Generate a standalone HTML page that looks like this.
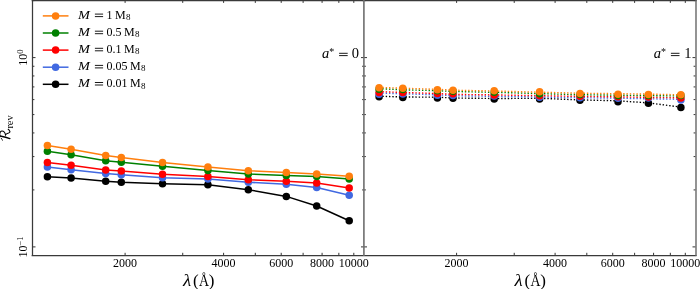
<!DOCTYPE html>
<html><head><meta charset="utf-8"><style>
html,body{margin:0;padding:0;background:#fff;width:700px;height:289px;overflow:hidden;}
svg{display:block;font-family:"Liberation Serif",serif;will-change:transform;}
</style></head><body><svg width="700" height="289" viewBox="0 0 700 289"><polyline points="47.40,176.70 71.10,178.00 105.70,181.20 121.30,182.20 162.50,183.70 207.90,184.80 248.30,189.70 286.30,196.40 316.70,206.00 349.20,220.80" fill="none" stroke="#000000" stroke-width="1.5" stroke-linejoin="round"/><circle cx="47.40" cy="176.70" r="3.75" fill="#000000"/><circle cx="71.10" cy="178.00" r="3.75" fill="#000000"/><circle cx="105.70" cy="181.20" r="3.75" fill="#000000"/><circle cx="121.30" cy="182.20" r="3.75" fill="#000000"/><circle cx="162.50" cy="183.70" r="3.75" fill="#000000"/><circle cx="207.90" cy="184.80" r="3.75" fill="#000000"/><circle cx="248.30" cy="189.70" r="3.75" fill="#000000"/><circle cx="286.30" cy="196.40" r="3.75" fill="#000000"/><circle cx="316.70" cy="206.00" r="3.75" fill="#000000"/><circle cx="349.20" cy="220.80" r="3.75" fill="#000000"/><polyline points="47.40,167.10 71.10,169.70 105.70,173.50 121.30,174.80 162.50,177.80 207.90,179.10 248.30,182.20 286.30,184.30 316.70,187.40 349.20,195.20" fill="none" stroke="#4169e1" stroke-width="1.5" stroke-linejoin="round"/><circle cx="47.40" cy="167.10" r="3.75" fill="#4169e1"/><circle cx="71.10" cy="169.70" r="3.75" fill="#4169e1"/><circle cx="105.70" cy="173.50" r="3.75" fill="#4169e1"/><circle cx="121.30" cy="174.80" r="3.75" fill="#4169e1"/><circle cx="162.50" cy="177.80" r="3.75" fill="#4169e1"/><circle cx="207.90" cy="179.10" r="3.75" fill="#4169e1"/><circle cx="248.30" cy="182.20" r="3.75" fill="#4169e1"/><circle cx="286.30" cy="184.30" r="3.75" fill="#4169e1"/><circle cx="316.70" cy="187.40" r="3.75" fill="#4169e1"/><circle cx="349.20" cy="195.20" r="3.75" fill="#4169e1"/><polyline points="47.40,162.50 71.10,165.30 105.70,170.10 121.30,171.10 162.50,174.20 207.90,176.60 248.30,179.70 286.30,181.30 316.70,183.00 349.20,188.10" fill="none" stroke="#ff0000" stroke-width="1.5" stroke-linejoin="round"/><circle cx="47.40" cy="162.50" r="3.75" fill="#ff0000"/><circle cx="71.10" cy="165.30" r="3.75" fill="#ff0000"/><circle cx="105.70" cy="170.10" r="3.75" fill="#ff0000"/><circle cx="121.30" cy="171.10" r="3.75" fill="#ff0000"/><circle cx="162.50" cy="174.20" r="3.75" fill="#ff0000"/><circle cx="207.90" cy="176.60" r="3.75" fill="#ff0000"/><circle cx="248.30" cy="179.70" r="3.75" fill="#ff0000"/><circle cx="286.30" cy="181.30" r="3.75" fill="#ff0000"/><circle cx="316.70" cy="183.00" r="3.75" fill="#ff0000"/><circle cx="349.20" cy="188.10" r="3.75" fill="#ff0000"/><polyline points="47.40,151.20 71.10,154.70 105.70,160.80 121.30,162.20 162.50,166.30 207.90,170.60 248.30,173.90 286.30,175.60 316.70,176.50 349.20,178.90" fill="none" stroke="#008000" stroke-width="1.5" stroke-linejoin="round"/><circle cx="47.40" cy="151.20" r="3.75" fill="#008000"/><circle cx="71.10" cy="154.70" r="3.75" fill="#008000"/><circle cx="105.70" cy="160.80" r="3.75" fill="#008000"/><circle cx="121.30" cy="162.20" r="3.75" fill="#008000"/><circle cx="162.50" cy="166.30" r="3.75" fill="#008000"/><circle cx="207.90" cy="170.60" r="3.75" fill="#008000"/><circle cx="248.30" cy="173.90" r="3.75" fill="#008000"/><circle cx="286.30" cy="175.60" r="3.75" fill="#008000"/><circle cx="316.70" cy="176.50" r="3.75" fill="#008000"/><circle cx="349.20" cy="178.90" r="3.75" fill="#008000"/><polyline points="47.40,145.60 71.10,149.30 105.70,155.50 121.30,157.60 162.50,162.50 207.90,166.90 248.30,170.70 286.30,172.60 316.70,174.10 349.20,176.20" fill="none" stroke="#ff7f0e" stroke-width="1.5" stroke-linejoin="round"/><circle cx="47.40" cy="145.60" r="3.75" fill="#ff7f0e"/><circle cx="71.10" cy="149.30" r="3.75" fill="#ff7f0e"/><circle cx="105.70" cy="155.50" r="3.75" fill="#ff7f0e"/><circle cx="121.30" cy="157.60" r="3.75" fill="#ff7f0e"/><circle cx="162.50" cy="162.50" r="3.75" fill="#ff7f0e"/><circle cx="207.90" cy="166.90" r="3.75" fill="#ff7f0e"/><circle cx="248.30" cy="170.70" r="3.75" fill="#ff7f0e"/><circle cx="286.30" cy="172.60" r="3.75" fill="#ff7f0e"/><circle cx="316.70" cy="174.10" r="3.75" fill="#ff7f0e"/><circle cx="349.20" cy="176.20" r="3.75" fill="#ff7f0e"/><polyline points="379.10,96.20 402.80,97.00 437.40,97.20 453.00,98.00 494.20,98.50 539.60,98.30 580.00,99.90 618.00,100.80 648.40,102.90 680.90,107.10" fill="none" stroke="#000000" stroke-width="1.4" stroke-dasharray="1.4 1.9"/><circle cx="379.10" cy="96.80" r="3.75" fill="#000000"/><circle cx="402.80" cy="97.50" r="3.75" fill="#000000"/><circle cx="437.40" cy="97.95" r="3.75" fill="#000000"/><circle cx="453.00" cy="98.30" r="3.75" fill="#000000"/><circle cx="494.20" cy="98.95" r="3.75" fill="#000000"/><circle cx="539.60" cy="98.90" r="3.75" fill="#000000"/><circle cx="580.00" cy="100.25" r="3.75" fill="#000000"/><circle cx="618.00" cy="101.70" r="3.75" fill="#000000"/><circle cx="648.40" cy="103.20" r="3.75" fill="#000000"/><circle cx="680.90" cy="107.40" r="3.75" fill="#000000"/><polyline points="379.10,93.00 402.80,93.80 437.40,94.80 453.00,95.80 494.20,96.30 539.60,97.00 580.00,97.70 618.00,98.20 648.40,98.80 680.90,99.30" fill="none" stroke="#4169e1" stroke-width="1.4" stroke-dasharray="1.4 1.9"/><circle cx="379.10" cy="94.30" r="3.75" fill="#4169e1"/><circle cx="402.80" cy="94.00" r="3.75" fill="#4169e1"/><circle cx="437.40" cy="95.20" r="3.75" fill="#4169e1"/><circle cx="453.00" cy="95.40" r="3.75" fill="#4169e1"/><circle cx="494.20" cy="96.05" r="3.75" fill="#4169e1"/><circle cx="539.60" cy="97.20" r="3.75" fill="#4169e1"/><circle cx="580.00" cy="97.80" r="3.75" fill="#4169e1"/><circle cx="618.00" cy="98.20" r="3.75" fill="#4169e1"/><circle cx="648.40" cy="98.10" r="3.75" fill="#4169e1"/><circle cx="680.90" cy="100.00" r="3.75" fill="#4169e1"/><polyline points="379.10,91.60 402.80,92.50 437.40,93.50 453.00,94.40 494.20,94.90 539.60,95.70 580.00,96.40 618.00,96.90 648.40,97.40 680.90,97.80" fill="none" stroke="#ff0000" stroke-width="1.4" stroke-dasharray="1.4 1.9"/><circle cx="379.10" cy="92.40" r="3.75" fill="#ff0000"/><circle cx="402.80" cy="92.50" r="3.75" fill="#ff0000"/><circle cx="437.40" cy="93.50" r="3.75" fill="#ff0000"/><circle cx="453.00" cy="93.80" r="3.75" fill="#ff0000"/><circle cx="494.20" cy="94.90" r="3.75" fill="#ff0000"/><circle cx="539.60" cy="95.80" r="3.75" fill="#ff0000"/><circle cx="580.00" cy="96.30" r="3.75" fill="#ff0000"/><circle cx="618.00" cy="96.80" r="3.75" fill="#ff0000"/><circle cx="648.40" cy="97.00" r="3.75" fill="#ff0000"/><circle cx="680.90" cy="98.05" r="3.75" fill="#ff0000"/><polyline points="379.10,88.70 402.80,89.80 437.40,90.70 453.00,91.50 494.20,92.30 539.60,93.60 580.00,94.70 618.00,95.20 648.40,95.60 680.90,96.00" fill="none" stroke="#008000" stroke-width="1.4" stroke-dasharray="1.4 1.9"/><circle cx="379.10" cy="89.20" r="3.75" fill="#008000"/><circle cx="402.80" cy="89.50" r="3.75" fill="#008000"/><circle cx="437.40" cy="90.80" r="3.75" fill="#008000"/><circle cx="453.00" cy="91.20" r="3.75" fill="#008000"/><circle cx="494.20" cy="92.20" r="3.75" fill="#008000"/><circle cx="539.60" cy="93.80" r="3.75" fill="#008000"/><circle cx="580.00" cy="94.60" r="3.75" fill="#008000"/><circle cx="618.00" cy="95.40" r="3.75" fill="#008000"/><circle cx="648.40" cy="95.60" r="3.75" fill="#008000"/><circle cx="680.90" cy="95.50" r="3.75" fill="#008000"/><polyline points="379.10,87.30 402.80,88.30 437.40,89.30 453.00,90.20 494.20,91.00 539.60,92.20 580.00,93.20 618.00,93.70 648.40,94.10 680.90,94.80" fill="none" stroke="#ff7f0e" stroke-width="1.4" stroke-dasharray="1.4 1.9"/><circle cx="379.10" cy="87.80" r="3.75" fill="#ff7f0e"/><circle cx="402.80" cy="88.20" r="3.75" fill="#ff7f0e"/><circle cx="437.40" cy="89.70" r="3.75" fill="#ff7f0e"/><circle cx="453.00" cy="90.20" r="3.75" fill="#ff7f0e"/><circle cx="494.20" cy="90.85" r="3.75" fill="#ff7f0e"/><circle cx="539.60" cy="91.85" r="3.75" fill="#ff7f0e"/><circle cx="580.00" cy="93.40" r="3.75" fill="#ff7f0e"/><circle cx="618.00" cy="94.20" r="3.75" fill="#ff7f0e"/><circle cx="648.40" cy="94.60" r="3.75" fill="#ff7f0e"/><circle cx="680.90" cy="94.85" r="3.75" fill="#ff7f0e"/><path d="M125.10,255.7v-2.9M125.10,0.0v2.9M182.72,255.7v-2.9M182.72,0.0v2.9M223.60,255.7v-2.9M223.60,0.0v2.9M255.31,255.7v-2.9M255.31,0.0v2.9M281.21,255.7v-2.9M281.21,0.0v2.9M303.12,255.7v-2.9M303.12,0.0v2.9M322.09,255.7v-2.9M322.09,0.0v2.9M338.83,255.7v-2.9M338.83,0.0v2.9M353.80,255.7v-2.9M353.80,0.0v2.9M32.5,57.60h3.0M364.0,57.60h-3.0M32.5,246.90h3.0M364.0,246.90h-3.0M32.5,189.92h1.9M364.0,189.92h-1.9M32.5,156.58h1.9M364.0,156.58h-1.9M32.5,132.93h1.9M364.0,132.93h-1.9M32.5,114.58h1.9M364.0,114.58h-1.9M32.5,99.60h1.9M364.0,99.60h-1.9M32.5,86.92h1.9M364.0,86.92h-1.9M32.5,75.95h1.9M364.0,75.95h-1.9M32.5,66.26h1.9M364.0,66.26h-1.9M32.5,0.62h1.9M364.0,0.62h-1.9M456.60,255.7v-2.9M456.60,0.0v2.9M514.22,255.7v-2.9M514.22,0.0v2.9M555.10,255.7v-2.9M555.10,0.0v2.9M586.81,255.7v-2.9M586.81,0.0v2.9M612.71,255.7v-2.9M612.71,0.0v2.9M634.62,255.7v-2.9M634.62,0.0v2.9M653.59,255.7v-2.9M653.59,0.0v2.9M670.33,255.7v-2.9M670.33,0.0v2.9M685.30,255.7v-2.9M685.30,0.0v2.9M364.0,57.60h3.0M695.5,57.60h-3.0M364.0,246.90h3.0M695.5,246.90h-3.0M364.0,189.92h1.9M695.5,189.92h-1.9M364.0,156.58h1.9M695.5,156.58h-1.9M364.0,132.93h1.9M695.5,132.93h-1.9M364.0,114.58h1.9M695.5,114.58h-1.9M364.0,99.60h1.9M695.5,99.60h-1.9M364.0,86.92h1.9M695.5,86.92h-1.9M364.0,75.95h1.9M695.5,75.95h-1.9M364.0,66.26h1.9M695.5,66.26h-1.9M364.0,0.62h1.9M695.5,0.62h-1.9" stroke="#000" stroke-width="0.8" fill="none"/><path d="M32.5,0V256.2M31.6,255.7H696.6M31.6,0.5H696.7" stroke="#3a3a3a" stroke-width="1.25" fill="none"/><path d="M363.9,0V256" stroke="#6e6e6e" stroke-width="1.6" fill="none"/><path d="M696.0,0V256" stroke="#666" stroke-width="1.4" fill="none"/><g transform="translate(10.4,141.2) rotate(-90)" fill="none" stroke="#000" stroke-linecap="round"><path d="M5.2,-10.4 C4.5,-7 3.7,-3.6 2.6,-0.5" stroke-width="1.35"/><path d="M2.8,-9.1 C2.0,-8.8 1.3,-8.4 0.9,-7.8" stroke-width="0.9"/><path d="M4.4,-10.2 C6.6,-10.9 10.2,-10.8 10.1,-8.4 C10.0,-6.4 8.0,-5.2 6.3,-4.9 C7.4,-4.4 7.8,-3.2 8.2,-1.8 C8.6,-0.6 9.1,-0.3 9.7,-0.5 C10.7,-0.9 11.5,-1.5 11.9,-2.2" stroke-width="1.05"/></g><path d="M339.10,53.3H347.70M339.10,55.6H347.70" stroke="#000" stroke-width="0.9"/><path d="M670.90,53.3H679.50M670.90,55.6H679.50" stroke="#000" stroke-width="0.9"/><line x1="42.8" y1="15.90" x2="68.5" y2="15.90" stroke="#ff7f0e" stroke-width="1.5"/><circle cx="55.6" cy="15.90" r="3.75" fill="#ff7f0e"/><path d="M94.9,14.10H103.1M94.9,16.60H103.1" stroke="#000" stroke-width="0.9"/><line x1="42.8" y1="33.00" x2="68.5" y2="33.00" stroke="#008000" stroke-width="1.5"/><circle cx="55.6" cy="33.00" r="3.75" fill="#008000"/><path d="M94.9,31.20H103.1M94.9,33.70H103.1" stroke="#000" stroke-width="0.9"/><line x1="42.8" y1="50.10" x2="68.5" y2="50.10" stroke="#ff0000" stroke-width="1.5"/><circle cx="55.6" cy="50.10" r="3.75" fill="#ff0000"/><path d="M94.9,48.30H103.1M94.9,50.80H103.1" stroke="#000" stroke-width="0.9"/><line x1="42.8" y1="67.20" x2="68.5" y2="67.20" stroke="#4169e1" stroke-width="1.5"/><circle cx="55.6" cy="67.20" r="3.75" fill="#4169e1"/><path d="M94.9,65.40H103.1M94.9,67.90H103.1" stroke="#000" stroke-width="0.9"/><line x1="42.8" y1="84.30" x2="68.5" y2="84.30" stroke="#000000" stroke-width="1.5"/><circle cx="55.6" cy="84.30" r="3.75" fill="#000000"/><path d="M94.9,82.50H103.1M94.9,85.00H103.1" stroke="#000" stroke-width="0.9"/><g font-family="Liberation Serif, serif" fill="#000"><text x="125.10" y="266.8" text-anchor="middle" font-size="12">2000</text><text x="223.60" y="266.8" text-anchor="middle" font-size="12">4000</text><text x="281.21" y="266.8" text-anchor="middle" font-size="12">6000</text><text x="322.09" y="266.8" text-anchor="middle" font-size="12">8000</text><text x="353.80" y="266.8" text-anchor="middle" font-size="12">10000</text><text x="183.00" y="285.6" font-size="16" font-style="italic" textLength="8.2" lengthAdjust="spacingAndGlyphs">λ</text><text x="193.00" y="286.2" font-size="17">(</text><text x="198.90" y="285.6" font-size="17.5" textLength="10.0" lengthAdjust="spacingAndGlyphs">Å</text><text x="208.70" y="286.2" font-size="17">)</text><text x="456.60" y="266.8" text-anchor="middle" font-size="12">2000</text><text x="555.10" y="266.8" text-anchor="middle" font-size="12">4000</text><text x="612.71" y="266.8" text-anchor="middle" font-size="12">6000</text><text x="653.59" y="266.8" text-anchor="middle" font-size="12">8000</text><text x="685.30" y="266.8" text-anchor="middle" font-size="12">10000</text><text x="514.50" y="285.6" font-size="16" font-style="italic" textLength="8.2" lengthAdjust="spacingAndGlyphs">λ</text><text x="524.50" y="286.2" font-size="17">(</text><text x="530.40" y="285.6" font-size="17.5" textLength="10.0" lengthAdjust="spacingAndGlyphs">Å</text><text x="540.20" y="286.2" font-size="17">)</text><text transform="translate(26.9,57.60) rotate(-90)" text-anchor="middle" font-size="12">10<tspan dy="-4" font-size="8.5">0</tspan></text><text transform="translate(26.9,246.90) rotate(-90)" text-anchor="middle" font-size="12">10<tspan dy="-4" font-size="8.5">−1</tspan></text><text transform="translate(13.2,128.6) rotate(-90)" font-size="10.5" textLength="13.3" lengthAdjust="spacingAndGlyphs">rev</text><text x="322.00" y="58.2" font-size="14.5" font-style="italic">a</text><text x="329.20" y="55.0" font-size="10">*</text><text x="351.80" y="58.2" font-size="14.5">0</text><text x="653.80" y="58.2" font-size="14.5" font-style="italic">a</text><text x="661.00" y="55.0" font-size="10">*</text><text x="684.20" y="58.2" font-size="14.5">1</text><text x="78.1" y="18.70" font-size="12.5" font-style="italic" textLength="11.9" lengthAdjust="spacingAndGlyphs">M</text><text x="106.4" y="18.70" font-size="12">1</text><text x="114.90" y="18.70" font-size="12">M</text><text x="125.90" y="20.10" font-size="9">8</text><text x="78.1" y="35.80" font-size="12.5" font-style="italic" textLength="11.9" lengthAdjust="spacingAndGlyphs">M</text><text x="106.4" y="35.80" font-size="12">0.5</text><text x="123.90" y="35.80" font-size="12">M</text><text x="134.90" y="37.20" font-size="9">8</text><text x="78.1" y="52.90" font-size="12.5" font-style="italic" textLength="11.9" lengthAdjust="spacingAndGlyphs">M</text><text x="106.4" y="52.90" font-size="12">0.1</text><text x="124.00" y="52.90" font-size="12">M</text><text x="135.00" y="54.30" font-size="9">8</text><text x="78.1" y="70.00" font-size="12.5" font-style="italic" textLength="11.9" lengthAdjust="spacingAndGlyphs">M</text><text x="106.4" y="70.00" font-size="12">0.05</text><text x="130.10" y="70.00" font-size="12">M</text><text x="141.10" y="71.40" font-size="9">8</text><text x="78.1" y="87.10" font-size="12.5" font-style="italic" textLength="11.9" lengthAdjust="spacingAndGlyphs">M</text><text x="106.4" y="87.10" font-size="12">0.01</text><text x="130.10" y="87.10" font-size="12">M</text><text x="141.10" y="88.50" font-size="9">8</text></g></svg></body></html>
